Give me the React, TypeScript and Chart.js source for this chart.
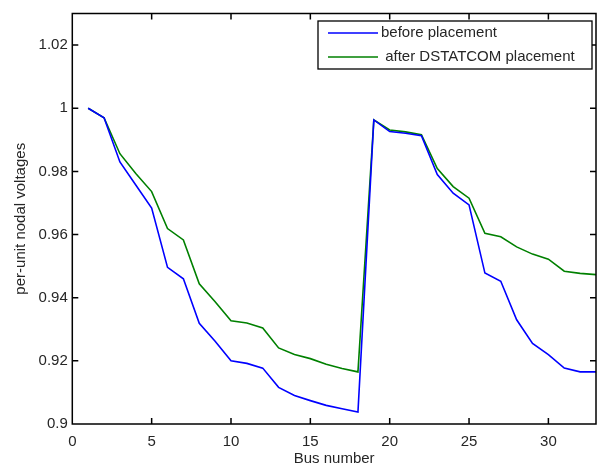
import React, { useEffect, useRef } from "react";
import { Chart, registerables } from "chart.js";

Chart.register(...registerables);

const busNumbers = [1, 2, 3, 4, 5, 6, 7, 8, 9, 10, 11, 12, 13, 14, 15, 16, 17, 18, 19, 20, 21, 22, 23, 24, 25, 26, 27, 28, 29, 30, 31, 32, 33];
const beforeValues = [1.0, 0.997, 0.983, 0.9757, 0.9684, 0.9496, 0.946, 0.9319, 0.9262, 0.92, 0.9192, 0.9177, 0.9116, 0.909, 0.9074, 0.9059, 0.9048, 0.9038, 0.9963, 0.9926, 0.9921, 0.9913, 0.979, 0.9731, 0.9694, 0.9478, 0.9452, 0.933, 0.9255, 0.922, 0.9177, 0.9165, 0.9165];
const afterValues = [1.0, 0.997, 0.9856, 0.9793, 0.9736, 0.9619, 0.9583, 0.9444, 0.9387, 0.9327, 0.932, 0.9304, 0.9241, 0.922, 0.9207, 0.9189, 0.9176, 0.9165, 0.9963, 0.9931, 0.9925, 0.9916, 0.9809, 0.9752, 0.9715, 0.9604, 0.9593, 0.9561, 0.9538, 0.9522, 0.9484, 0.9477, 0.9473];
const seriesLabels = ["before placement", " after DSTATCOM placement"];
const seriesColors = ["#0000ff", "#008000"];
const xTickValues = [0, 5, 10, 15, 20, 25, 30];
const xTickLabels = ["0", "5", "10", "15", "20", "25", "30"];
const yTickValues = [0.9, 0.92, 0.94, 0.96, 0.98, 1.0, 1.02];
const yTickLabels = ["0.9", "0.92", "0.94", "0.96", "0.98", "1", "1.02"];
const xTitle = "Bus number";
const yTitle = "per-unit nodal voltages";

const FONT = "'Liberation Sans', Arial, sans-serif";
const TEXT_COLOR = "#262626";

const framePlugin = {
  id: "frameTicks",
  afterDatasetsDraw(chart: any) {
    const { ctx, chartArea, scales } = chart;
    const { left, right, top, bottom } = chartArea;
    const tl = 6;
    ctx.save();
    ctx.strokeStyle = "#000";
    ctx.lineWidth = 1.5;
    ctx.beginPath();
    for (const v of xTickValues) {
      const px = scales.x.getPixelForValue(v);
      if (px <= left + 1 || px >= right - 1) continue;
      ctx.moveTo(px, bottom);
      ctx.lineTo(px, bottom - tl);
      ctx.moveTo(px, top);
      ctx.lineTo(px, top + tl);
    }
    for (const v of yTickValues) {
      const py = scales.y.getPixelForValue(v);
      if (py <= top + 1 || py >= bottom - 1) continue;
      ctx.moveTo(left, py);
      ctx.lineTo(left + tl, py);
      ctx.moveTo(right, py);
      ctx.lineTo(right - tl, py);
    }
    ctx.stroke();
    ctx.strokeRect(left, top, right - left, bottom - top);
    ctx.restore();
  },
};

const legendPlugin = {
  id: "boxLegend",
  afterDraw(chart: any) {
    const { ctx } = chart;
    const bx = 318, by = 21, bw = 274, bh = 48;
    ctx.save();
    ctx.fillStyle = "#fff";
    ctx.fillRect(bx, by, bw, bh);
    ctx.strokeStyle = "#000";
    ctx.lineWidth = 1.3;
    ctx.strokeRect(bx, by, bw, bh);
    ctx.font = `15px ${FONT}`;
    ctx.textBaseline = "middle";
    ctx.textAlign = "left";
    chart.data.datasets.forEach((ds: any, i: number) => {
      const y = by + 12 + i * 24;
      ctx.strokeStyle = ds.borderColor;
      ctx.lineWidth = 1.6;
      ctx.beginPath();
      ctx.moveTo(bx + 10, y);
      ctx.lineTo(bx + 60, y);
      ctx.stroke();
      ctx.fillStyle = TEXT_COLOR;
      ctx.fillText(ds.label, bx + 63, y);
    });
    ctx.restore();
  },
};

export default function App() {
  const canvasRef = useRef<HTMLCanvasElement | null>(null);

  useEffect(() => {
    if (!canvasRef.current) return;
    const chart = new Chart(canvasRef.current, {
      type: "line",
      data: {
        datasets: [
          {
            label: seriesLabels[0],
            data: busNumbers.map((b, i) => ({ x: b, y: beforeValues[i] })),
            borderColor: seriesColors[0],
            backgroundColor: seriesColors[0],
            borderWidth: 1.6,
            pointRadius: 0,
            tension: 0,
            fill: false,
          },
          {
            label: seriesLabels[1],
            data: busNumbers.map((b, i) => ({ x: b, y: afterValues[i] })),
            borderColor: seriesColors[1],
            backgroundColor: seriesColors[1],
            borderWidth: 1.6,
            pointRadius: 0,
            tension: 0,
            fill: false,
          },
        ],
      },
      options: {
        animation: false,
        responsive: true,
        maintainAspectRatio: false,
        layout: { padding: { top: 11.5, right: 4, left: 0, bottom: 0 } },
        plugins: {
          legend: { display: false },
          tooltip: { enabled: false },
        },
        scales: {
          x: {
            type: "linear",
            min: 0,
            max: 33,
            grid: { display: false, drawTicks: false },
            border: { display: false },
            afterBuildTicks: (scale: any) => {
              scale.ticks = xTickValues.map((v) => ({ value: v }));
            },
            afterFit: (scale: any) => {
              scale.height = 42;
            },
            ticks: {
              autoSkip: false,
              maxRotation: 0,
              padding: 9,
              color: TEXT_COLOR,
              font: { family: FONT, size: 15 },
              callback: (_v: any, i: number) => xTickLabels[i],
            },
            title: {
              display: true,
              text: xTitle,
              color: TEXT_COLOR,
              font: { family: FONT, size: 15, lineHeight: 1 },
              padding: { top: 0, bottom: 0 },
            },
          },
          y: {
            type: "linear",
            min: 0.9,
            max: 1.03,
            grid: { display: false, drawTicks: false },
            border: { display: false },
            afterBuildTicks: (scale: any) => {
              scale.ticks = yTickValues.map((v) => ({ value: v }));
            },
            afterFit: (scale: any) => {
              scale.width = 72.3;
            },
            ticks: {
              autoSkip: false,
              padding: 4.5,
              color: TEXT_COLOR,
              font: { family: FONT, size: 15 },
              callback: (_v: any, i: number) => yTickLabels[i],
            },
            title: {
              display: true,
              text: yTitle,
              color: TEXT_COLOR,
              font: { family: FONT, size: 15, lineHeight: 1 },
              padding: { top: 13.5, bottom: 0 },
            },
          },
        },
      },
      plugins: [framePlugin, legendPlugin],
    });
    return () => chart.destroy();
  }, []);

  return (
    <div style={{ position: "absolute", left: 0, top: 0, width: 600, height: 466, background: "#fff" }}>
      <canvas ref={canvasRef} />
    </div>
  );
}
